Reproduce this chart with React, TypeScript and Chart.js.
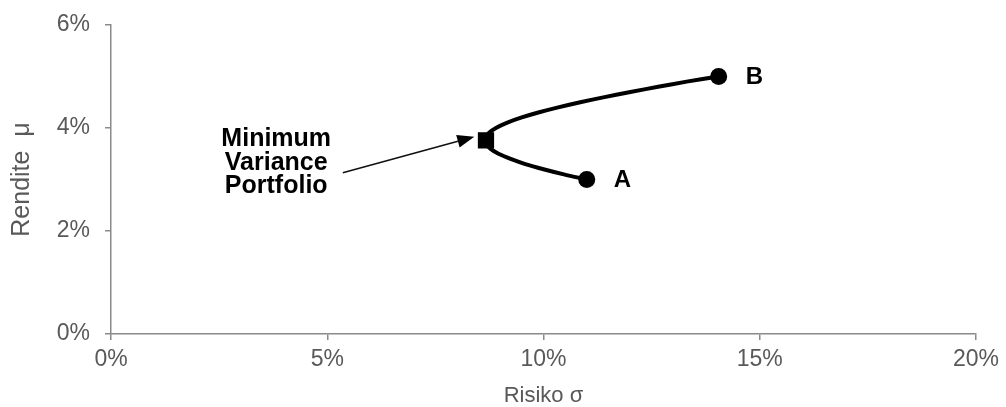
import React, { useEffect, useRef } from "react";
import { Chart, registerables } from "chart.js";

Chart.register(...registerables);

// Efficient frontier (risk σ in %, return μ in %)
const frontierRisk = [11.0, 10.47, 10.0, 9.58, 9.24, 8.96, 8.77, 8.67, 8.65, 8.66, 8.73, 8.9, 9.15, 9.48, 9.88, 10.34, 10.85, 11.41, 12.01, 12.65, 13.31, 14.05];
const frontierReturn = [3.0, 3.1, 3.2, 3.3, 3.4, 3.5, 3.6, 3.7, 3.76, 3.8, 3.9, 4.0, 4.1, 4.2, 4.3, 4.4, 4.5, 4.6, 4.7, 4.8, 4.9, 5.0];

const assetLabels = ["A", "B"];
const assetRisk = [11.0, 14.05];
const assetReturn = [3.0, 5.0];

const mvpRisk = [8.67];
const mvpReturn = [3.76];

const annotationLines = ["Minimum", "Variance", "Portfolio"];
const annotationAnchor = [3.82, 3.32]; // text centre (σ %, μ %)
const arrowStart = [5.36, 3.13];
const arrowTip = [8.4, 3.83];

const xTickValues = [0, 5, 10, 15, 20];
const yTickValues = [0, 2, 4, 6];
const xTitle = "Risiko σ";
const yTitle = "Rendite  μ";

const FONT = "'Liberation Sans', Arial, sans-serif";
const GRAY = "#595959";
const AXIS = "#8a8a8a";

const overlayPlugin = {
  id: "overlay",
  afterDatasetsDraw(chart: any) {
    const { ctx } = chart;
    const xs = chart.scales.x;
    const ys = chart.scales.y;
    ctx.save();
    // point labels A, B
    ctx.fillStyle = "#000";
    ctx.font = `bold 24px ${FONT}`;
    ctx.textBaseline = "middle";
    ctx.textAlign = "left";
    assetLabels.forEach((lab, i) => {
      const px = xs.getPixelForValue(assetRisk[i]);
      const py = ys.getPixelForValue(assetReturn[i]);
      ctx.fillText(lab, px + 27, py + 1);
    });
    // annotation text
    ctx.font = `bold 25px ${FONT}`;
    ctx.textAlign = "center";
    const cx = xs.getPixelForValue(annotationAnchor[0]);
    const cy = ys.getPixelForValue(annotationAnchor[1]);
    annotationLines.forEach((t, i) => {
      ctx.fillText(t, cx, cy + (i - 1) * 23.5);
    });
    // arrow
    const sx = xs.getPixelForValue(arrowStart[0]);
    const sy = ys.getPixelForValue(arrowStart[1]);
    const tx = xs.getPixelForValue(arrowTip[0]);
    const ty = ys.getPixelForValue(arrowTip[1]);
    const ang = Math.atan2(ty - sy, tx - sx);
    const headLen = 17;
    const headHalf = 6.5;
    const bx = tx - headLen * Math.cos(ang);
    const by = ty - headLen * Math.sin(ang);
    ctx.strokeStyle = "#111";
    ctx.lineWidth = 1.6;
    ctx.beginPath();
    ctx.moveTo(sx, sy);
    ctx.lineTo(bx, by);
    ctx.stroke();
    ctx.fillStyle = "#000";
    ctx.beginPath();
    ctx.moveTo(tx, ty);
    ctx.lineTo(bx + headHalf * Math.sin(ang), by - headHalf * Math.cos(ang));
    ctx.lineTo(bx - headHalf * Math.sin(ang), by + headHalf * Math.cos(ang));
    ctx.closePath();
    ctx.fill();
    ctx.restore();
  },
};

export default function App() {
  const ref = useRef<HTMLCanvasElement>(null);
  useEffect(() => {
    if (!ref.current) return;
    const chart = new Chart(ref.current, {
      type: "scatter",
      data: {
        datasets: [
          {
            label: "frontier",
            data: frontierRisk.map((x, i) => ({ x, y: frontierReturn[i] })),
            showLine: true,
            borderColor: "#000",
            borderWidth: 4,
            pointRadius: 0,
            tension: 0.3,
          },
          {
            label: "assets",
            data: assetRisk.map((x, i) => ({ x, y: assetReturn[i] })),
            pointRadius: 8.5,
            backgroundColor: "#000",
            borderColor: "#000",
            borderWidth: 0,
          },
          {
            label: "mvp",
            data: mvpRisk.map((x, i) => ({ x, y: mvpReturn[i] })),
            pointStyle: "rect",
            pointRadius: 11.5,
            backgroundColor: "#000",
            borderColor: "#000",
            borderWidth: 0,
          },
        ],
      },
      options: {
        responsive: false,
        animation: false,
        layout: { padding: { top: 25, right: 30, left: 0, bottom: 0 } },
        plugins: { legend: { display: false }, tooltip: { enabled: false } },
        scales: {
          x: {
            type: "linear",
            min: 0,
            max: 20,
            afterBuildTicks: (s: any) => {
              s.ticks = xTickValues.map((v) => ({ value: v }));
            },
            afterFit: (s: any) => {
              s.height = 73;
            },
            ticks: {
              color: GRAY,
              font: { family: FONT, size: 23, lineHeight: 1.2 },
              padding: 6,
              maxRotation: 0,
              callback: (v: any) => `${v}%`,
            },
            grid: { drawOnChartArea: false, tickLength: 6, color: AXIS, lineWidth: 1.5 },
            border: { color: AXIS, width: 1.5 },
            title: {
              display: true,
              text: xTitle,
              color: GRAY,
              font: { family: FONT, size: 22, lineHeight: 1 },
              padding: { top: 0, bottom: 0 },
            },
          },
          y: {
            type: "linear",
            min: 0,
            max: 6,
            afterBuildTicks: (s: any) => {
              s.ticks = yTickValues.map((v) => ({ value: v }));
            },
            afterFit: (s: any) => {
              s.width = 111;
              s.paddingTop = 0;
              s.paddingBottom = 0;
            },
            ticks: {
              color: GRAY,
              font: { family: FONT, size: 23, lineHeight: 1 },
              padding: 15,
              callback: (v: any) => `${v}%`,
            },
            grid: { drawOnChartArea: false, tickLength: 6, color: AXIS, lineWidth: 1.5 },
            border: { color: AXIS, width: 1.5 },
            title: {
              display: true,
              text: yTitle,
              color: GRAY,
              font: { family: FONT, size: 25, lineHeight: 1 },
              padding: { top: 10, bottom: 0 },
            },
          },
        },
      },
      plugins: [overlayPlugin],
    });
    return () => chart.destroy();
  }, []);
  return (
    <div style={{ position: "absolute", left: 0, top: 0, width: 1006, height: 407, background: "#fff" }}>
      <canvas ref={ref} width={1006} height={407} style={{ display: "block" }} />
    </div>
  );
}
